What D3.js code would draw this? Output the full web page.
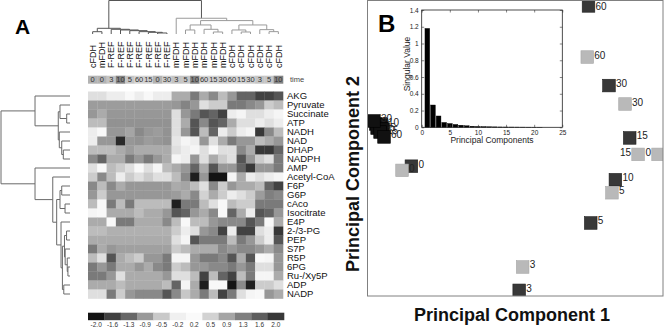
<!DOCTYPE html>
<html>
<head>
<meta charset="utf-8">
<script src="https://cdn.jsdelivr.net/npm/d3@7"></script>
<style>
  body { margin: 0; background: #fff; }
  svg { display: block; font-family: "Liberation Sans", Arial, sans-serif; }
</style>
</head>
<body>
<svg id="chart" width="664" height="328"></svg>
<script>
// ---- panel A data ----
const metabolites = ['AKG', 'Pyruvate', 'Succinate', 'ATP', 'NADH', 'NAD', 'DHAP', 'NADPH', 'AMP', 'Acetyl-CoA',
  'F6P', 'G6P', 'cAco', 'Isocitrate', 'E4P', '2-/3-PG', 'PEP', 'S7P', 'R5P', '6PG', 'Ru-/Xy5P', 'ADP', 'NADP'];
const strains = ['cFDH', 'mFDH', 'F-REF', 'F-REF', 'F-REF', 'F-REF', 'F-REF', 'F-REF', 'F-REF',
  'mFDH', 'mFDH', 'mFDH', 'mFDH', 'mFDH', 'mFDH', 'cFDH', 'cFDH', 'cFDH', 'cFDH', 'cFDH', 'cFDH'];
const times = [0, 0, 3, 10, 5, 60, 15, 0, 30, 3, 5, 10, 60, 15, 30, 60, 15, 30, 3, 5, 10];
const heat = [
  [0.4, 0.4, 0.3, 0.3, 0.1, 0.3, 0.1, 0.3, 0.3, 0.85, 0.85, 1.35, 0.85, 1.2, 0.7, 1.05, 1.55, 1.55, 1.9, 1.9, 1.7],
  [1.0, 1.0, 1.0, 1.0, 1.0, 1.0, 1.0, 1.0, 1.0, 1.05, 1.25, 1.05, 0.4, 0.55, 0.55, 1.35, 1.35, 1.2, 1.05, 0.55, 0.7],
  [1.05, 0.85, 1.05, 1.05, 1.05, 1.05, 1.05, 1.05, 1.05, 0.4, 1.05, 1.35, 1.7, 1.55, 1.9, 0.3, 0, 0.4, 0.4, 0.3, 0],
  [0.7, 0.7, 1.1, 1.1, 1.1, 1.1, 1.1, 1.1, 1.1, 0.4, 0.85, 1.7, 1.2, 1.7, 1.55, 0.85, 0.4, 0.4, 0.3, 0.4, 0.3],
  [0.3, 0.1, 1.05, 1.05, 0.9, 1.2, 1.05, 1.0, 1.1, 0.4, 1.05, 1.7, 0.7, 1.55, 0.3, 0.55, 0.3, 0, 2.0, 1.2, 0.7],
  [0.3, 1.05, 1.05, -1.8, 1.05, 1.1, 1.0, 1.05, 1.1, 0.35, 0, 0.3, 1.05, 0.4, 0.85, 1.35, 1.05, 1.05, 0.7, 0.85, 1.05],
  [0.7, 0.7, 0.7, 0.85, 1.0, 0.85, 0.85, 0.85, 0.85, 0.4, 0.3, 0, 0.4, 0.1, 0.4, 0.4, 1.2, 0.85, 2.0, 2.0, 1.55],
  [1.2, 1.55, 0.85, 0.85, 1.35, 1.05, 1.35, 1.05, 0.85, 0, 0.3, 1.05, 0.4, 0.85, 0.55, 0.4, 1.7, 1.05, 0.55, 0.4, 1.35],
  [0.4, 0.1, 0.7, 0.55, 0.4, 0.1, 0.4, 0, 0.7, 0.85, 1.05, 1.55, 0.85, 1.7, 1.05, 1.05, 1.55, 2.0, 1.05, 1.05, 1.35],
  [0.55, 1.2, 0.7, 0.3, 0.55, 0.4, 0.55, 0.4, 0.4, 0.7, 1.2, -1.9, 1.05, -2.0, -2.0, 0, 0.85, 0.3, 0.4, 0.3, 0],
  [1.2, 0.7, 1.2, 0.85, 1.05, 1.05, 1.05, 1.05, 1.05, 0.85, 0.9, 0.7, 0.4, 1.2, 0.55, 1.05, 0.85, 0.85, 0.7, 1.55, 1.9],
  [1.05, 0.55, 1.05, 1.05, 1.05, 1.05, 1.05, 1.05, 1.05, 1.0, 0.85, 1.2, 0.5, 0.85, 0.55, 0.3, 0.4, 0.55, 1.0, 1.3, 1.2],
  [0.7, 0.1, 1.35, 0.7, 1.35, 0.7, 0.7, 0.7, 0.7, -1.9, 1.35, 1.35, 0.7, 0.4, 0.1, 0.7, 0.55, 0.55, 1.35, 1.35, 1.35],
  [0, 0.1, 0.85, 0.85, 0.85, 0.7, 0.85, 0.85, 1.05, 1.7, 1.55, 1.05, 0.85, 1.2, 0.1, 1.55, 0.85, 0.3, 1.7, 1.55, 1.05],
  [0.85, 0.85, 0.1, 1.35, 1.35, 0.85, 0.85, 0.85, 1.2, 0.7, 0.1, 0.7, 0.7, 1.05, 1.2, 1.2, 1.2, 1.7, 1.35, 0.1, 0.85],
  [0.7, 0.7, 0.8, 0.8, 0.8, 0.8, 0.8, 0.8, 0.8, 0.55, 0.3, 0.4, 1.05, 1.2, 1.9, 0.3, 1.9, 1.9, 0.4, 0.3, 2.0],
  [0.85, 0.85, 0.85, 0.85, 0.85, 0.85, 0.85, 0.85, 0.85, 0.4, 0, 1.7, 1.35, 1.35, 1.35, 0.7, 1.35, 1.05, 0.55, 0.3, 1.7],
  [1.35, 0.85, 1.05, 0.95, 0.95, 0.95, 0.95, 0.95, 0.95, 0.55, 0.7, 0.85, 0.85, 0.85, 1.2, 1.05, 1.2, 1.2, 1.05, 0.85, 1.2],
  [0.7, 0.4, 1.7, 0.85, 0.7, 0.55, 1.05, 1.05, 1.35, 0, 0, 1.05, 1.35, 1.35, 1.2, 1.7, 0.85, 1.7, 0.1, 0, 1.05],
  [1.35, 1.05, 1.35, 0.85, 0.85, 1.05, 0.85, 1.2, 1.35, 0.55, 0.7, 1.05, 1.05, 1.2, 1.2, 1.35, 1.05, 1.35, 0.4, 0.4, 1.05],
  [1.35, 1.35, 1.05, 0.4, 0.85, 0.85, 0.85, 0.85, 1.05, 0.4, 0.4, 0.7, 1.9, 0.7, 1.55, 1.9, 0.7, 1.35, 0, 0, 0.85],
  [0.85, 0.85, 0.85, 0.7, 0.85, 0.85, 0.85, 0.85, 0.7, 1.55, 0, 0.85, -1.9, 0.1, 0.1, -2.0, 1.2, -1.9, 0.55, 0.55, 0.4],
  [0.4, 0.4, 1.35, 0.55, 1.05, 1.2, 1.2, 1.2, 1.7, 1.2, 0.6, 0.85, 1.35, 0.7, 1.9, 1.35, 0.4, 0, 0.1, 1.05, 0.85]
];
const colorTicks = [-2.0, -1.6, -1.3, -0.9, -0.5, -0.2, 0.2, 0.5, 0.9, 1.3, 1.6, 2.0];

// dendrograms: [height, left, right]; a bare number is a leaf index
const colTree = [1.0,
  [0.17, [0.069, 0, 1], [0.14, 2, [0.12, 3, [0.10, 4, [0.07, 5, [0.05, 6, [0.03, 7, 8]]]]]]],
  [0.47, 9, [0.40,
    [0.27, [0.12, 10, 11], [0.14, 12, [0.06, 13, 14]]],
    [0.27, [0.12, 15, [0.06, 16, 17]], [0.13, 18, [0.07, 19, 20]]]]]
];
const rowTree = [1.0,
  [0.507, 0, [0.17, [0.145, 1, [0.048, 2, 3]], [0.155, 4, [0.12, 5, [0.097, 6, 7]]]]],
  [0.507, 8, [0.25, 9, [0.193,
    [0.145, [0.12, 10, 11], [0.072, 12, 13]],
    [0.13, 14, [0.11, [0.08, [0.05, 15, 16], [0.07, 17, [0.04, 18, [0.03, 19, 20]]]], [0.09, 21, 22]]]]]]
];

// ---- panel B data ----
const frefTimes = [0, 3, 10, 5, 15, 60, 30];
const frefPC1 = [-0.564, -0.559, -0.543, -0.535, -0.547, -0.531, -0.572];
const frefPC2 = [0.100, 0.083, 0.096, 0.079, 0.067, 0.047, 0.112];
const darkTimes = [0, 3, 5, 10, 15, 30, 60];
const darkPC1 = [-0.420, 0.017, 0.307, 0.407, 0.465, 0.381, 0.298];
const darkPC2 = [-0.072, -0.577, -0.303, -0.127, 0.043, 0.256, 0.580];
const lightTimes = [0, 3, 5, 0, 15, 30, 60];
const lightPC1 = [-0.458, 0.031, 0.393, 0.580, 0.499, 0.446, 0.293];
const lightPC2 = [-0.089, -0.482, -0.180, -0.024, -0.024, 0.181, 0.372];
const singularValues = [1.18, 0.266, 0.135, 0.058, 0.045, 0.034, 0.025, 0.018, 0.013, 0.010, 0.008,
  0.006, 0.005, 0.004, 0.0035, 0.003, 0.0025, 0.002, 0.0015, 0.001, 0.0008];

const svg = d3.select('#chart');

// ================= panel A =================
const heatX = d3.scaleBand().domain(d3.range(strains.length)).range([88, 283]);
const heatY = d3.scaleBand().domain(d3.range(metabolites.length)).range([91.5, 298.5]);
const grey = d3.scaleLinear().domain(colorTicks)
  .range(['#141414', '#404040', '#676767', '#999999', '#c9c9c9', '#f0f0f0', '#fafafa', '#d2d2d2', '#a5a5a5', '#7f7f7f', '#5e5e5e', '#383838'])
  .clamp(true);
const timeShade = d3.scaleOrdinal().domain([0, 3, 5, 10, 15, 30, 60])
  .range(['#b3b3b3', '#c4c4c4', '#c6c6c6', '#848484', '#d2d2d2', '#cdcdcd', '#d4d4d4']);

svg.append('text').attr('x', 15).attr('y', 33.5).attr('font-size', 21).attr('font-weight', 'bold').text('A');

const cells = [];
heat.forEach((row, r) => row.forEach((v, c) => cells.push({ r, c, v })));
svg.append('g').selectAll('rect').data(cells).enter().append('rect')
  .attr('x', d => heatX(d.c)).attr('y', d => heatY(d.r))
  .attr('width', heatX.bandwidth() + 0.3).attr('height', heatY.bandwidth() + 0.3)
  .attr('fill', d => grey(d.v));

svg.append('g').selectAll('text').data(metabolites).enter().append('text')
  .attr('x', 287).attr('y', (d, i) => heatY(i) + heatY.bandwidth() / 2).attr('dy', '0.35em')
  .attr('font-size', 9.5).attr('fill', '#111').text(d => d);

svg.append('g').selectAll('text').data(strains).enter().append('text')
  .attr('transform', (d, i) => `translate(${heatX(i) + heatX.bandwidth() / 2 + 3.2},68) rotate(-90)`)
  .attr('font-size', 9).attr('fill', '#111').text(d => d);

const timeRow = svg.append('g');
timeRow.selectAll('rect').data(times).enter().append('rect')
  .attr('x', (d, i) => heatX(i)).attr('y', 75.7).attr('width', heatX.bandwidth() + 0.3).attr('height', 8)
  .attr('fill', d => timeShade(d));
timeRow.selectAll('text').data(times).enter().append('text')
  .attr('x', (d, i) => heatX(i) + heatX.bandwidth() / 2).attr('y', 79.7).attr('dy', '0.35em')
  .attr('text-anchor', 'middle').attr('font-size', 7.5).attr('fill', '#333').text(d => d);
svg.append('text').attr('x', 290).attr('y', 79.7).attr('dy', '0.35em').attr('font-size', 7.5).attr('fill', '#444').text('time');

// colour key
const keyX = d3.scaleBand().domain(d3.range(colorTicks.length)).range([88, 284]);
const key = svg.append('g');
key.selectAll('rect').data(colorTicks).enter().append('rect')
  .attr('x', (d, i) => keyX(i)).attr('y', 312.7).attr('width', keyX.bandwidth() + 0.3).attr('height', 7.5)
  .attr('fill', d => grey(d));
key.selectAll('text').data(colorTicks).enter().append('text')
  .attr('x', (d, i) => keyX(i) + keyX.bandwidth() / 2).attr('y', 324.5).attr('dy', '0.35em')
  .attr('text-anchor', 'middle').attr('font-size', 6.5).attr('fill', '#333').text(d => d.toFixed(1));

function buildTree(tree, leafPos) {
  const root = d3.hierarchy(tree, d => Array.isArray(d) ? d.slice(1) : null);
  root.eachAfter(n => {
    if (!n.children) { n.pos = leafPos(n.data); n.hv = 0; }
    else { n.pos = d3.mean(n.children, c => c.pos); n.hv = n.data[0]; }
  });
  return root;
}

// column dendrogram (top)
const colH = d3.scaleLinear().domain([0, 1]).range([34, 0.5]);
const colRoot = buildTree(colTree, i => heatX(i) + heatX.bandwidth() / 2);
const rightCluster = new Set(colRoot.children[1].descendants());
svg.append('g').selectAll('path').data(colRoot.descendants().filter(n => n.children)).enter().append('path')
  .attr('d', n => {
    const [a, b] = n.children;
    return `M${a.pos},${colH(a.hv)}V${colH(n.hv)}H${b.pos}V${colH(b.hv)}`;
  })
  .attr('fill', 'none').attr('stroke', n => rightCluster.has(n) ? '#9a9a9a' : '#555').attr('stroke-width', 1);

// row dendrogram (left)
const rowH = d3.scaleLinear().domain([0, 1]).range([70, 1]);
const rowRoot = buildTree(rowTree, i => heatY(i) + heatY.bandwidth() / 2);
svg.append('g').selectAll('path').data(rowRoot.descendants().filter(n => n.children)).enter().append('path')
  .attr('d', n => {
    const [a, b] = n.children;
    return `M${rowH(a.hv)},${a.pos}H${rowH(n.hv)}V${b.pos}H${rowH(b.hv)}`;
  })
  .attr('fill', 'none').attr('stroke', '#6a6a6a').attr('stroke-width', 1);

// ================= panel B =================
const frame = { x0: 367.5, x1: 663, y0: 0.5, y1: 296 };
const pcX = d3.scaleLinear().domain([-0.6, 0.6]).range([367, 663]);
const pcY = d3.scaleLinear().domain([-0.6, 0.6]).range([296, 1]);

svg.append('clipPath').attr('id', 'frameClip').append('rect')
  .attr('x', frame.x0).attr('y', frame.y0).attr('width', frame.x1 - frame.x0).attr('height', frame.y1 - frame.y0);

const groups = [
  { times: darkTimes, pc1: darkPC1, pc2: darkPC2, fill: '#383838', stroke: '#1e1e1e' },
  { times: lightTimes, pc1: lightPC1, pc2: lightPC2, fill: '#b9b9b9', stroke: '#a8a8a8' },
  { times: frefTimes, pc1: frefPC1, pc2: frefPC2, fill: '#111', stroke: '#000' }
];
const points = [];
groups.forEach(g => g.times.forEach((t, i) => points.push({ t, x: pcX(g.pc1[i]), y: pcY(g.pc2[i]), fill: g.fill, stroke: g.stroke })));
// put the label on the left when a neighbour on the same line or the frame edge is just to the right
points.forEach(p => {
  p.left = p.x > frame.x1 - 16 || points.some(q => q !== p && q.x - p.x > 8 && q.x - p.x < 22 && Math.abs(q.y - p.y) < 3);
});

const sq = 12.6;
const scatter = svg.append('g').attr('clip-path', 'url(#frameClip)');
points.forEach(p => {
  scatter.append('rect').attr('x', p.x - sq / 2).attr('y', p.y - sq / 2).attr('width', sq).attr('height', sq)
    .attr('fill', p.fill).attr('stroke', p.stroke).attr('stroke-width', 0.6);
  scatter.append('text').attr('x', p.left ? p.x - 7 : p.x + 7).attr('y', Math.max(p.y - 2, 6)).attr('dy', '0.35em')
    .attr('text-anchor', p.left ? 'end' : 'start').attr('font-size', 10).attr('fill', '#222').text(p.t);
});

svg.append('rect').attr('x', frame.x0).attr('y', frame.y0).attr('width', frame.x1 - frame.x0).attr('height', frame.y1 - frame.y0)
  .attr('fill', 'none').attr('stroke', '#808080').attr('stroke-width', 1);

svg.append('text').attr('x', 378).attr('y', 31.7).attr('font-size', 24).attr('font-weight', 'bold').text('B');

svg.append('text').attr('x', 512).attr('y', 321).attr('text-anchor', 'middle')
  .attr('font-size', 18).attr('font-weight', 'bold').attr('fill', '#111').text('Principal Component 1');
svg.append('text').attr('transform', 'translate(359,174) rotate(-90)').attr('text-anchor', 'middle')
  .attr('font-size', 18).attr('font-weight', 'bold').attr('fill', '#111').text('Principal Component 2');

// inset: singular values
const inX = d3.scaleLinear().domain([0, 25]).range([421.7, 562.3]);
const inY = d3.scaleLinear().domain([0, 1.4]).range([127.3, 10]);
const inset = svg.append('g');
inset.append('rect').attr('x', inX(0)).attr('y', inY(1.4)).attr('width', inX(25) - inX(0)).attr('height', inY(0) - inY(1.4))
  .attr('fill', '#fff');
inset.selectAll('.bar').data(singularValues).enter().append('rect').attr('class', 'bar')
  .attr('x', (d, i) => inX(i + 1 - 0.42)).attr('width', inX(0.84) - inX(0))
  .attr('y', d => inY(d)).attr('height', d => inY(0) - inY(d))
  .attr('fill', '#000').attr('stroke', '#000').attr('stroke-width', 0.4);

const xt = [0, 5, 10, 15, 20, 25];
const yt = [0, 0.2, 0.4, 0.6, 0.8, 1, 1.2, 1.4];
const fmt = d => String(+d.toFixed(1));
inset.append('g').attr('transform', `translate(0,${inY(0)})`)
  .call(d3.axisBottom(inX).tickValues(xt).tickSize(-2.5).tickPadding(3).tickFormat(fmt));
inset.append('g').attr('transform', `translate(0,${inY(1.4)})`)
  .call(d3.axisTop(inX).tickValues(xt).tickSize(-2.5).tickFormat(''));
inset.append('g').attr('transform', `translate(${inX(0)},0)`)
  .call(d3.axisLeft(inY).tickValues(yt).tickSize(-2.5).tickPadding(3).tickFormat(fmt));
inset.append('g').attr('transform', `translate(${inX(25)},0)`)
  .call(d3.axisRight(inY).tickValues(yt).tickSize(-2.5).tickFormat(''));
inset.selectAll('.domain').remove();
inset.selectAll('.tick line').attr('stroke', '#333').attr('stroke-width', 0.6);
inset.selectAll('.tick text').attr('font-size', 6.5).attr('fill', '#222').attr('font-family', '"Liberation Sans", Arial, sans-serif');
inset.append('rect').attr('x', inX(0)).attr('y', inY(1.4)).attr('width', inX(25) - inX(0)).attr('height', inY(0) - inY(1.4))
  .attr('fill', 'none').attr('stroke', '#222').attr('stroke-width', 0.8);
inset.append('text').attr('x', (inX(0) + inX(25)) / 2).attr('y', 143).attr('text-anchor', 'middle')
  .attr('font-size', 8.5).attr('fill', '#222').text('Principal Components');
inset.append('text').attr('transform', 'translate(410,64) rotate(-90)').attr('text-anchor', 'middle')
  .attr('font-size', 8.5).attr('fill', '#222').text('Singular Value');
</script>
</body>
</html>
